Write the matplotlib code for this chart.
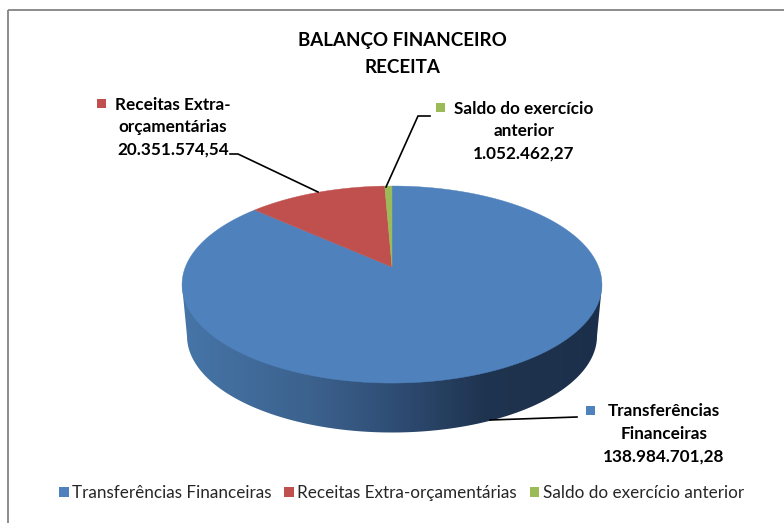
import numpy as np
import matplotlib
matplotlib.use("Agg")
import matplotlib.pyplot as plt
from matplotlib.patches import Polygon, Patch, Rectangle
from matplotlib.colors import LinearSegmentedColormap

plt.rcParams['font.family'] = ['Lato', 'DejaVu Sans']

categories = ["Transferências Financeiras", "Receitas Extra-orçamentárias", "Saldo do exercício anterior"]
values = [138984701.28, 20351574.54, 1052462.27]
value_labels = ["138.984.701,28", "20.351.574,54", "1.052.462,27"]
label_names = ["Transferências\nFinanceiras", "Receitas Extra-\norçamentárias", "Saldo do exercício\nanterior"]
colors = ["#4F81BD", "#C0504D", "#9BBB59"]
title_lines = "BALANÇO FINANCEIRO\nRECEITA"

W, H = 784, 523
fig = plt.figure(figsize=(W / 100, H / 100), dpi=100, facecolor="white")
ax = fig.add_axes([0, 0, 1, 1])
ax.set_xlim(0, W)
ax.set_ylim(H, 0)
ax.axis("off")

# chart frame
ax.add_patch(Rectangle((8.5, 10), 900, 600, fill=False, ec="#8c8c8c", lw=1.4, zorder=1))

# perspective projection of a unit disc
cx, cy = 392, 267
k, a, b = 0.178, 206.6, 95.4


def project(theta):
    """theta is measured clockwise from 12 o'clock."""
    u, v = np.sin(theta), np.cos(theta)
    w = 1 + k * v
    return cx + a * u / w, cy - b * v / w


# side wall
ex = 392 + 205 * np.cos(np.linspace(0, np.pi, 200))
ey = 336 + 96.5 * np.sin(np.linspace(0, np.pi, 200))
wall = np.vstack([[[602, 284.5]], np.column_stack([ex, ey]), [[182, 284.5]]])
grad = LinearSegmentedColormap.from_list(
    "wall", [(0, "#4675A8"), (0.3, "#3C628E"), (0.5, "#2F4E75"), (0.72, "#1F3450"), (1, "#1C2F4A")])
img = ax.imshow(np.linspace(0, 1, 400)[None, :], extent=(182, 602, 440, 280), cmap=grad,
                aspect="auto", zorder=2)
ax.set_xlim(0, W)
ax.set_ylim(H, 0)
clip = Polygon(wall, closed=True, transform=ax.transData, fc="none", ec="none")
ax.add_patch(clip)
img.set_clip_path(clip)

# top face wedges, clockwise from 12 o'clock
fractions = np.array(values) / np.sum(values)
start = 0.0
for frac, col in zip(fractions, colors):
    th = np.linspace(start, start + frac * 2 * np.pi, max(int(frac * 720), 4))
    x, y = project(th)
    pts = np.vstack([[[cx, cy]], np.column_stack([x, y])])
    ax.add_patch(Polygon(pts, closed=True, fc=col, ec=col, lw=0.3, zorder=3))
    start += frac * 2 * np.pi

# title
ax.text(402, 54, title_lines, ha="center", va="center", fontsize=13.5, fontweight="bold",
        color="black", linespacing=1.7, zorder=5)

# data labels
label_xy = [(664, 434), (173, 127), (524, 131)]
marker_xy = [(591, 410), (102, 103), (441, 107)]
for i in range(3):
    ax.text(label_xy[i][0], label_xy[i][1], label_names[i] + "\n" + value_labels[i], ha="center",
            va="center", fontsize=12.3, fontweight="bold", color="black", linespacing=1.5, zorder=5)
    ax.add_patch(Rectangle((marker_xy[i][0] - 4.5, marker_xy[i][1] - 4.5), 9, 9, fc=colors[i], ec="none", zorder=5))

# leader lines
leaders = [([490, 577], [420, 417]), ([318, 238, 230], [192, 154, 154]), ([386, 418, 430], [187, 116, 116])]
for xs, ys in leaders:
    ax.plot(xs, ys, color="black", lw=1.2, zorder=4, solid_joinstyle="miter")

# legend
handles = [Patch(fc=c, ec="none", label=n) for c, n in zip(colors, categories)]
ax.legend(handles=handles, loc="center", bbox_to_anchor=(401.5 / W, 1 - 493 / H), ncol=3, frameon=False,
          fontsize=12.35, handlelength=0.55, handleheight=0.55, handletextpad=0.2, columnspacing=0.75,
          borderpad=0, labelcolor="#262626")

fig.savefig("out.png", dpi=100)
